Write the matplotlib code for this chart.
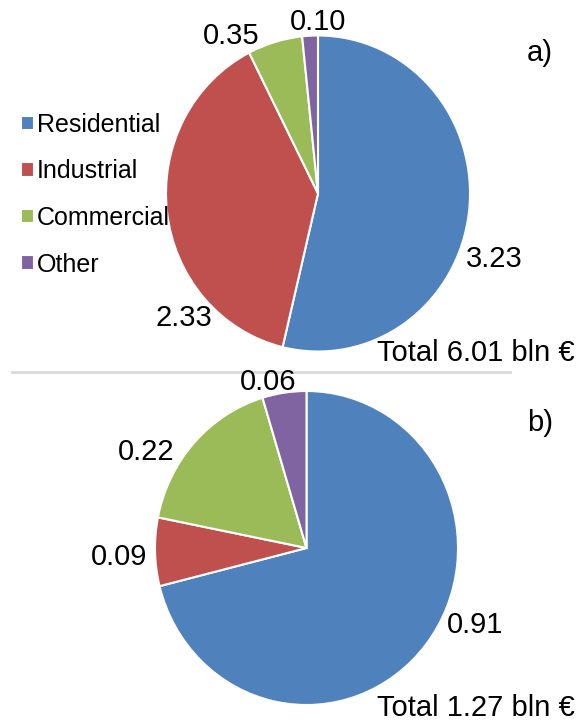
import matplotlib
matplotlib.use("Agg")
import matplotlib.pyplot as plt
from matplotlib.lines import Line2D

plt.rcParams["font.family"] = ["Liberation Sans", "DejaVu Sans"]

sectors = ["Residential", "Industrial", "Commercial", "Other"]
colors = ["#4F81BD", "#C0504D", "#9BBB59", "#8064A2"]

# a) total costs, b) second breakdown (bln €)
values_a = [3.23, 2.33, 0.35, 0.10]
values_b = [0.91, 0.09, 0.22, 0.06]
total_a = "6.01"
total_b = "1.27"

W, H = 578, 726
fig = plt.figure(figsize=(W / 100, H / 100), dpi=100)


def px_axes(x0, y0, x1, y1):
    # axes from pixel box (top-left origin)
    return fig.add_axes([x0 / W, 1 - y1 / H, (x1 - x0) / W, (y1 - y0) / H])


def px(x, y):
    return x / W, 1 - y / H


def draw_pie(ax, vals):
    wedges, _ = ax.pie(vals, colors=colors, startangle=90, counterclock=False,
                       radius=1, wedgeprops=dict(edgecolor="white", linewidth=1.5))
    ax.set_xlim(-1, 1); ax.set_ylim(-1, 1)
    ax.set_aspect("auto")
    return wedges


ax_a = px_axes(166, 35.5, 470, 351.5)
wedges = draw_pie(ax_a, values_a)
ax_b = px_axes(155, 391, 458, 705)
draw_pie(ax_b, values_b)

lab = dict(fontsize=21, ha="center", va="center")
pos_a = [(494, 259), (184, 318), (231, 36), (318, 22)]
pos_b = [(475, 625), (119, 557), (146, 452), (268, 382)]
for v, (x, y) in zip(values_a, pos_a):
    fig.text(*px(x, y), f"{v:.2f}", **lab)
for v, (x, y) in zip(values_b, pos_b):
    fig.text(*px(x, y), f"{v:.2f}", **lab)

fig.text(*px(540, 53), "a)", **lab)
fig.text(*px(540, 423), "b)", **lab)
fig.text(*px(575, 353), f"Total {total_a} bln €", fontsize=21, ha="right", va="center")
fig.text(*px(575, 708), f"Total {total_b} bln €", fontsize=21, ha="right", va="center")

# divider between the two panels
fig.add_artist(Line2D([12 / W, 510 / W], [1 - 372 / H] * 2, color="#D9D9D9", linewidth=2))

fig.legend(wedges, sectors, loc="upper left", bbox_to_anchor=px(21, 113),
           frameon=False, fontsize=18, handlelength=0.52, handleheight=0.52,
           handletextpad=0.12, labelspacing=0.9, borderpad=0, borderaxespad=0)

fig.savefig("out.png", dpi=100)
